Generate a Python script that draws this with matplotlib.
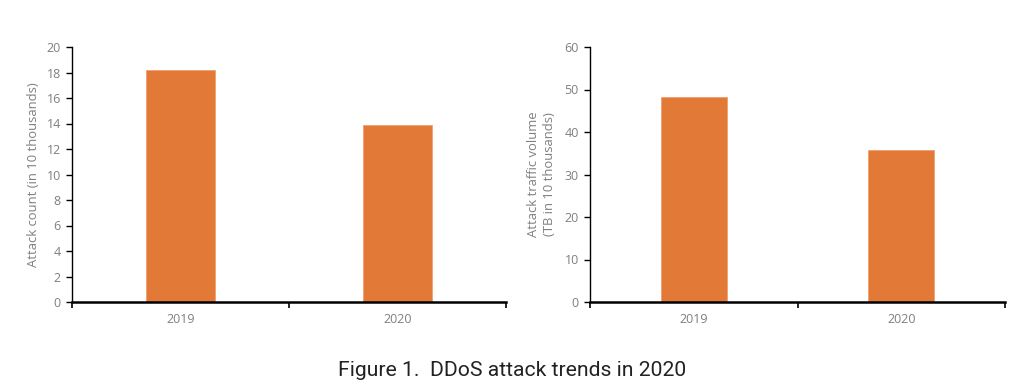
import matplotlib
matplotlib.use("Agg")
import matplotlib.pyplot as plt

years = ["2019", "2020"]
attack_count = [18.2, 13.9]
traffic_volume = [48.2, 35.7]
title = "Figure 1.  DDoS attack trends in 2020"

bar_color = "#E37936"
gray = "#7F7F7F"

plt.rcParams['font.family'] = ['Open Sans', 'DejaVu Sans']

fig = plt.figure(figsize=(10.24, 3.85), dpi=100)
ax1 = fig.add_axes([72/1024, 1-302/385, 434/1024, 255/385])
ax2 = fig.add_axes([590/1024, 1-302/385, 415/1024, 255/385])

def style(ax, values, ymax, step, ylabel, width, labelpad):
    x = list(range(len(years)))
    ax.bar(x, values, width=width, color=bar_color, edgecolor="#F0A070", linewidth=0.6, zorder=2)
    ax.set_xlim(-0.5, len(years)-0.5)
    ax.set_ylim(0, ymax)
    ax.set_yticks(list(range(0, ymax+1, step)))
    ax.set_xticks(x)
    ax.set_xticklabels(years)
    ax.set_xticks([i-0.5 for i in range(len(years)+1)], minor=True)
    ax.tick_params(axis='x', which='major', length=0, labelsize=9, labelcolor=gray, pad=8)
    ax.tick_params(axis='x', which='minor', length=4, width=1.2, direction='out', color='black')
    ax.tick_params(axis='y', length=4, width=1, direction='out', labelsize=9, labelcolor=gray, pad=4, color='black')
    for s in ['top', 'right']:
        ax.spines[s].set_visible(False)
    ax.spines['left'].set_linewidth(1.0)
    ax.spines['bottom'].set_linewidth(1.8)
    ax.set_ylabel(ylabel, fontsize=9.4, color=gray, labelpad=labelpad, linespacing=1.35)

style(ax1, attack_count, 20, 2, "Attack count (in 10 thousands)", 0.317, 5)
style(ax2, traffic_volume, 60, 10, "Attack traffic volume\n(TB in 10 thousands)", 0.32, 6)

fig.text(0.5, 1-371/385, title, ha='center', va='center', fontsize=15.2,
         family=['Roboto', 'DejaVu Sans'], color='#222222')

fig.savefig("out.png", dpi=100)
